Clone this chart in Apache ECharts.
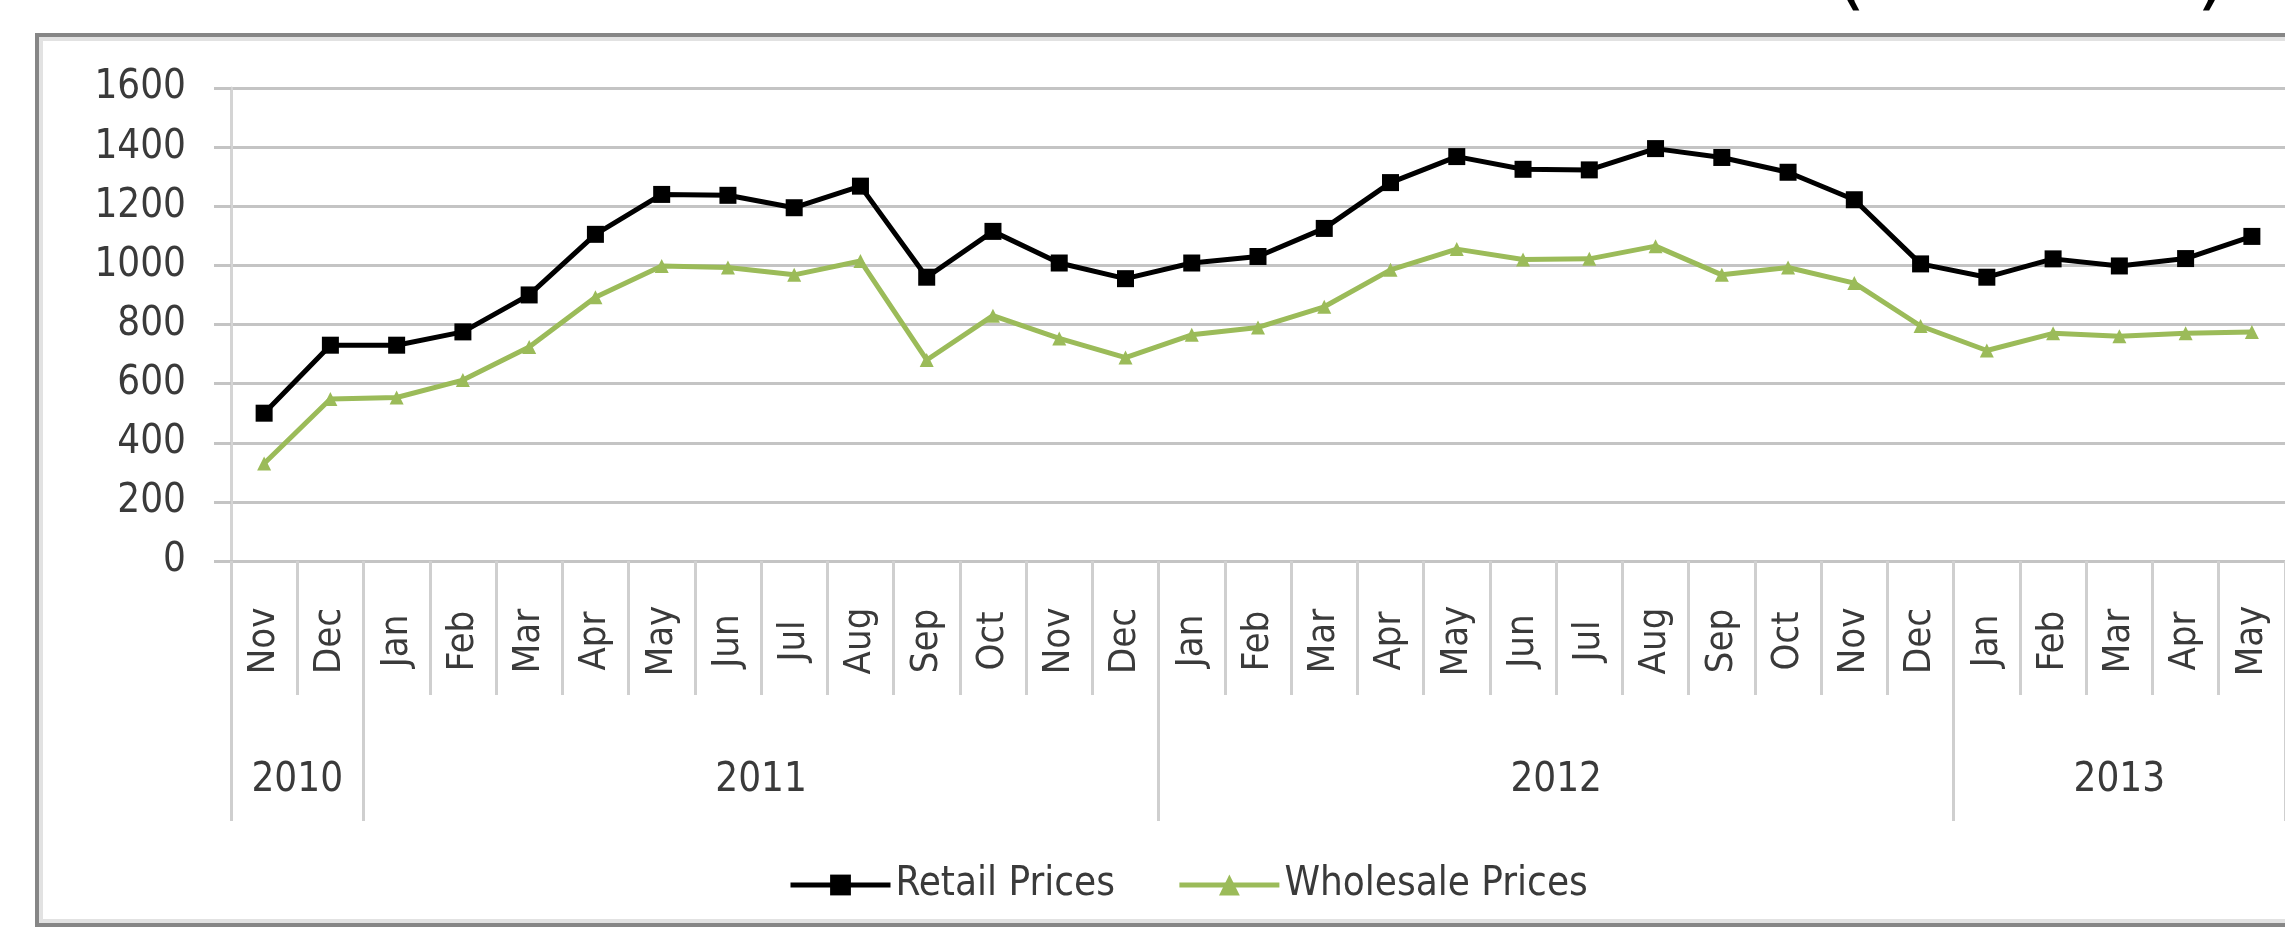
<!DOCTYPE html>
<html>
<head>
<meta charset="utf-8">
<script src="https://cdn.jsdelivr.net/npm/echarts@6/dist/echarts.min.js"></script>
<style>
html,body{margin:0;padding:0;background:#fff;}
#chart{width:2285px;height:936px;}
</style>
</head>
<body>
<div id="chart"></div>
<script>
const categories = ['Nov 2010','Dec 2010',
  'Jan 2011','Feb 2011','Mar 2011','Apr 2011','May 2011','Jun 2011','Jul 2011','Aug 2011','Sep 2011','Oct 2011','Nov 2011','Dec 2011',
  'Jan 2012','Feb 2012','Mar 2012','Apr 2012','May 2012','Jun 2012','Jul 2012','Aug 2012','Sep 2012','Oct 2012','Nov 2012','Dec 2012',
  'Jan 2013','Feb 2013','Mar 2013','Apr 2013','May 2013'];
const yearLabels = ['2010','2011','2012','2013'];
const yearMonthCounts = [2, 12, 12, 5];
const retailPrices = [500, 730, 730, 775, 900, 1105, 1240, 1237, 1195, 1268, 960, 1115, 1008, 955,
  1008, 1030, 1125, 1280, 1368, 1325, 1323, 1395, 1365, 1315, 1222, 1005,
  960, 1022, 998, 1023, 1098];
const wholesalePrices = [330, 548, 553, 612, 724, 892, 998, 993, 968, 1015, 680, 830, 753, 688,
  765, 790, 860, 985, 1055, 1020, 1022, 1065, 968, 993, 940, 795,
  712, 770, 760, 770, 775];
const yTicks = {min: 0, max: 1600, interval: 200};
const seriesNames = ['Retail Prices', 'Wholesale Prices'];

// year group boundaries and centers (in month-slot units)
const yearBounds = [0];
yearMonthCounts.forEach(c => yearBounds.push(yearBounds[yearBounds.length - 1] + c));
const yearCenters = yearMonthCounts.map((c, i) => yearBounds[i] + c / 2);

const FONT = "'DejaVu Sans Condensed','Liberation Sans Narrow','Roboto Condensed','DejaVu Sans',sans-serif";
const TXT = '#3a3a3a';
const GRID = '#c4c4c4';

const chart = echarts.init(document.getElementById('chart'));
chart.setOption({
  animation: false,
  backgroundColor: '#ffffff',
  textStyle: {fontFamily: FONT},
  graphic: [
    {type: 'rect', z: -10, shape: {x: 37, y: 35, width: 2300, height: 890},
     style: {fill: '#ffffff', stroke: '#868686', lineWidth: 4}},
    {type: 'rect', z: -9, shape: {x: 41, y: 39, width: 2300, height: 882},
     style: {fill: 'none', stroke: '#e2e2e2', lineWidth: 4}},
    {type: 'text', x: 1850, y: 19, style: {text: '(', font: "80px 'DejaVu Sans'", fill: '#000', align: 'center', verticalAlign: 'bottom'}},
    {type: 'text', x: 2212, y: 19, style: {text: ')', font: "80px 'DejaVu Sans'", fill: '#000', align: 'center', verticalAlign: 'bottom'}}
  ],
  grid: {left: 231, right: 0, top: 88, bottom: 375, containLabel: false},
  legend: {
    data: seriesNames,
    left: 783, top: 860,
    itemWidth: 100, itemHeight: 26, itemGap: 62,
    lineStyle: {width: 5},
    textStyle: {fontFamily: FONT, fontSize: 40, color: TXT}
  },
  xAxis: [
    {
      type: 'category', data: categories, boundaryGap: true,
      axisLine: {show: true, lineStyle: {color: GRID, width: 3}},
      axisTick: {show: true, interval: 0, length: 134, lineStyle: {color: '#cfcfcf', width: 3}},
      axisLabel: {
        interval: 0, rotate: 90, margin: 80, align: 'center', verticalAlign: 'middle',
        fontFamily: FONT, fontSize: 38, color: TXT,
        formatter: v => v.split(' ')[0]
      },
      splitLine: {show: false}
    },
    {
      type: 'value', min: 0, max: categories.length, position: 'bottom',
      axisLine: {show: false},
      splitLine: {show: false},
      axisTick: {show: true, customValues: yearBounds, length: 260, lineStyle: {color: '#cfcfcf', width: 3}},
      axisLabel: {
        customValues: yearCenters, margin: 200, fontFamily: FONT, fontSize: 40, color: TXT,
        formatter: v => { const i = yearCenters.indexOf(v); return i >= 0 ? yearLabels[i] : ''; }
      }
    }
  ],
  yAxis: {
    type: 'value', min: yTicks.min, max: yTicks.max, interval: yTicks.interval,
    axisLine: {show: true, lineStyle: {color: '#d4d4d4', width: 3}},
    axisTick: {show: true, length: 17, lineStyle: {color: GRID, width: 3}},
    axisLabel: {margin: 45, fontFamily: FONT, fontSize: 40, color: TXT, formatter: v => String(v)},
    splitLine: {show: true, lineStyle: {color: GRID, width: 3}}
  },
  series: [
    {
      name: seriesNames[0], type: 'line', data: retailPrices, xAxisIndex: 0,
      symbol: 'rect', symbolSize: 17,
      lineStyle: {color: '#000000', width: 5},
      itemStyle: {color: '#000000'}
    },
    {
      name: seriesNames[1], type: 'line', data: wholesalePrices, xAxisIndex: 0,
      symbol: 'triangle', symbolSize: 14,
      lineStyle: {color: '#9bbb59', width: 5},
      itemStyle: {color: '#9bbb59'}
    }
  ]
});
</script>
</body>
</html>
